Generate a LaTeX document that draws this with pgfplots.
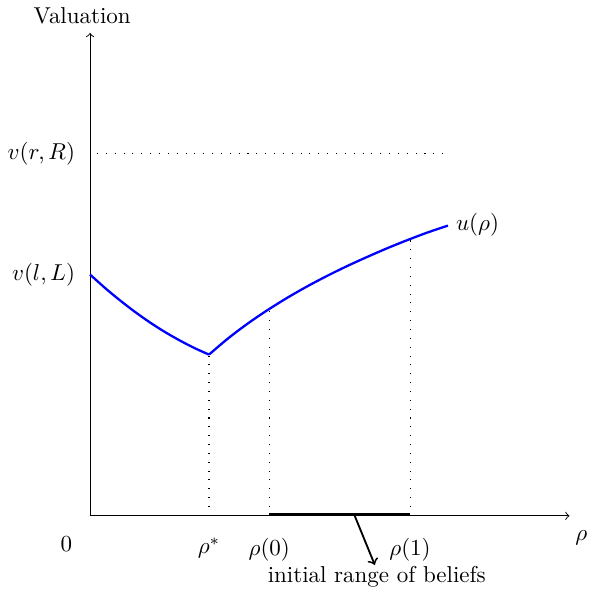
\documentclass[border=0pt]{standalone}
\usepackage{pgfplots}
\pgfplotsset{compat=1.18}
\begin{document}
\begin{tikzpicture}
  \begin{axis}[
      x=0.43pt, y=0.435pt,
      xmin=0, xmax=485, ymin=0, ymax=483,
      axis lines=left,
      axis line style={->},
      clip=false,
      major tick length=0pt,
      xtick={120.3,181.3,323.7},
      xticklabels={{$\rho^*$},{$\rho(0)$},{$\rho(1)$}},
      xticklabel style={yshift=-6pt},
      ytick={241.3,362},
      yticklabels={{$v(l,L)$},{$v(r,R)$}},
      yticklabel style={xshift=-3pt},
      guide/.style={black, line width=0.45pt, dash pattern=on 0.45pt off 3.4pt},
    ]
    % u(rho), left branch
    \addplot[blue, line width=1pt, smooth] coordinates {
      (0,241.3) (15,228.0) (30,215.7) (45,204.3) (60,193.8) (75,184.3)
      (90,175.8) (105,168.1) (120.3,161.3)};
    % u(rho), right branch
    \addplot[blue, line width=1pt, smooth] coordinates {
      (120.3,161.3) (140,177.8) (160,192.7) (180,206.1) (200,218.4)
      (220,229.7) (240,240.1) (260,249.8) (280,258.8) (300,267.4)
      (320,275.4) (340,282.9) (362,290.3)};
    % dotted guides
    \addplot[guide] coordinates {(120.3,0) (120.3,161.3)};
    \addplot[guide] coordinates {(181.3,0) (181.3,207)};
    \addplot[guide] coordinates {(323.7,0) (323.7,276.5)};
    \addplot[guide] coordinates {(7,362) (357,362)};
    % initial range of beliefs
    \addplot[black, thick] coordinates {(181.3,1.8) (323.7,1.8)};
    \addplot[black, thick, ->] coordinates {(267,1.8) (288,-49)};
    \node at (axis cs:290,-61) {initial range of beliefs};
    \node at (axis cs:-24,-28) {$0$};
    \node at (axis cs:497,-22) {$\rho$};
    \node at (axis cs:-8,500) {Valuation};
    \node[anchor=west] at (axis cs:362,291) {$u(\rho)$};
  \end{axis}
\end{tikzpicture}
\end{document}
